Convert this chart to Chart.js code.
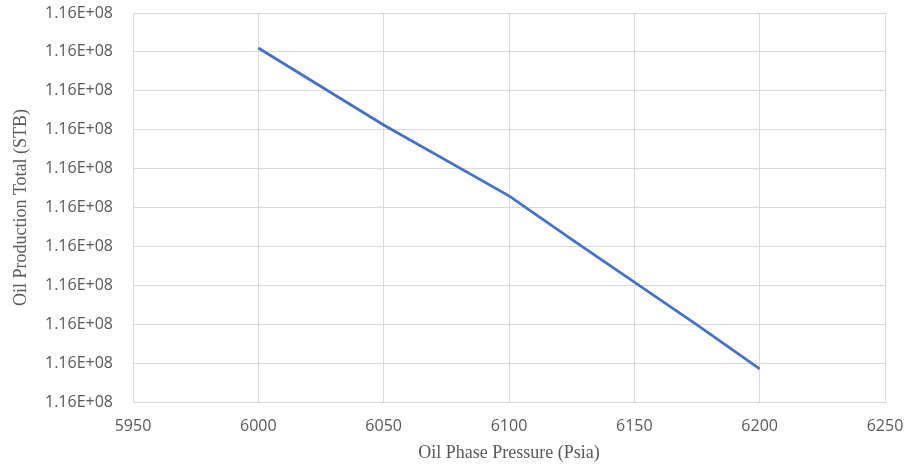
<!DOCTYPE html>
<html>
<head>
<meta charset="utf-8">
<script src="https://cdn.jsdelivr.net/npm/chart.js@4/dist/chart.umd.min.js"></script>
<style>
  html, body { margin: 0; padding: 0; background: #fff; }
  #wrap { width: 911px; height: 468px; }
</style>
</head>
<body>
<div id="wrap"><canvas id="c"></canvas></div>
<script>
// data (y is in STB, all of it rounds to 1.16E+08)
var pressure = [6000, 6050, 6100, 6125, 6150, 6175, 6200];
var oilTotal = [116004550, 116003560, 116002650, 116002090, 116001540, 116000990, 116000425];

var xMin = 5950, xMax = 6250, xStep = 50;
var yMin = 116000000, yMax = 116005000, yStep = 500;

function sci(v) {
    // Excel style: 1.16E+08
    var e = Math.floor(Math.log10(Math.abs(v)));
    var m = v / Math.pow(10, e);
    var es = String(Math.abs(e)); if (es.length < 2) es = '0' + es;
    return m.toFixed(2) + 'E' + (e < 0 ? '-' : '+') + es;
}

var pts = pressure.map(function (p, i) { return { x: p, y: oilTotal[i] }; });
var gridCol = '#d9d9d9';

// tick padding in Chart.js also pads the chart area, so the gap is made with invisible tick marks
new Chart(document.getElementById('c'), {
    type: 'scatter',
    data: { datasets: [{
        data: pts, showLine: true, borderColor: '#4472c4', borderWidth: 2.75,
        pointRadius: 0, tension: 0, fill: false
    }] },
    options: {
        responsive: true, maintainAspectRatio: false, animation: false,
        layout: { padding: { top: 13, right: 26, left: 0, bottom: 0 } },
        plugins: { legend: { display: false }, tooltip: { enabled: false } },
        scales: {
            x: {
                type: 'linear', min: xMin, max: xMax,
                afterFit: function (s) { s.height = 66; },
                ticks: { stepSize: xStep, padding: 0, color: '#595959', font: { family: 'Open Sans', size: 16 },
                         callback: function (v) { return String(v); } },
                grid: { color: gridCol, drawTicks: true, tickLength: 15, tickColor: 'rgba(0,0,0,0)' },
                border: { color: gridCol },
                title: { display: true, text: 'Oil Phase Pressure (Psia)', color: '#595959',
                         font: { family: 'Liberation Serif', size: 18 }, padding: { top: 0, bottom: 4 } }
            },
            y: {
                type: 'linear', min: yMin, max: yMax,
                afterFit: function (s) { s.width = 133; },
                ticks: { stepSize: yStep, padding: 0, color: '#595959', font: { family: 'Open Sans', size: 16 },
                         callback: function (v) { return sci(v); } },
                grid: { color: gridCol, drawTicks: true, tickLength: 20, tickColor: 'rgba(0,0,0,0)' },
                border: { color: gridCol },
                title: { display: true, text: 'Oil Production Total (STB)', color: '#595959',
                         font: { family: 'Liberation Serif', size: 18 }, padding: { top: 10, bottom: 0 } }
            }
        }
    }
});
</script>
</body>
</html>
